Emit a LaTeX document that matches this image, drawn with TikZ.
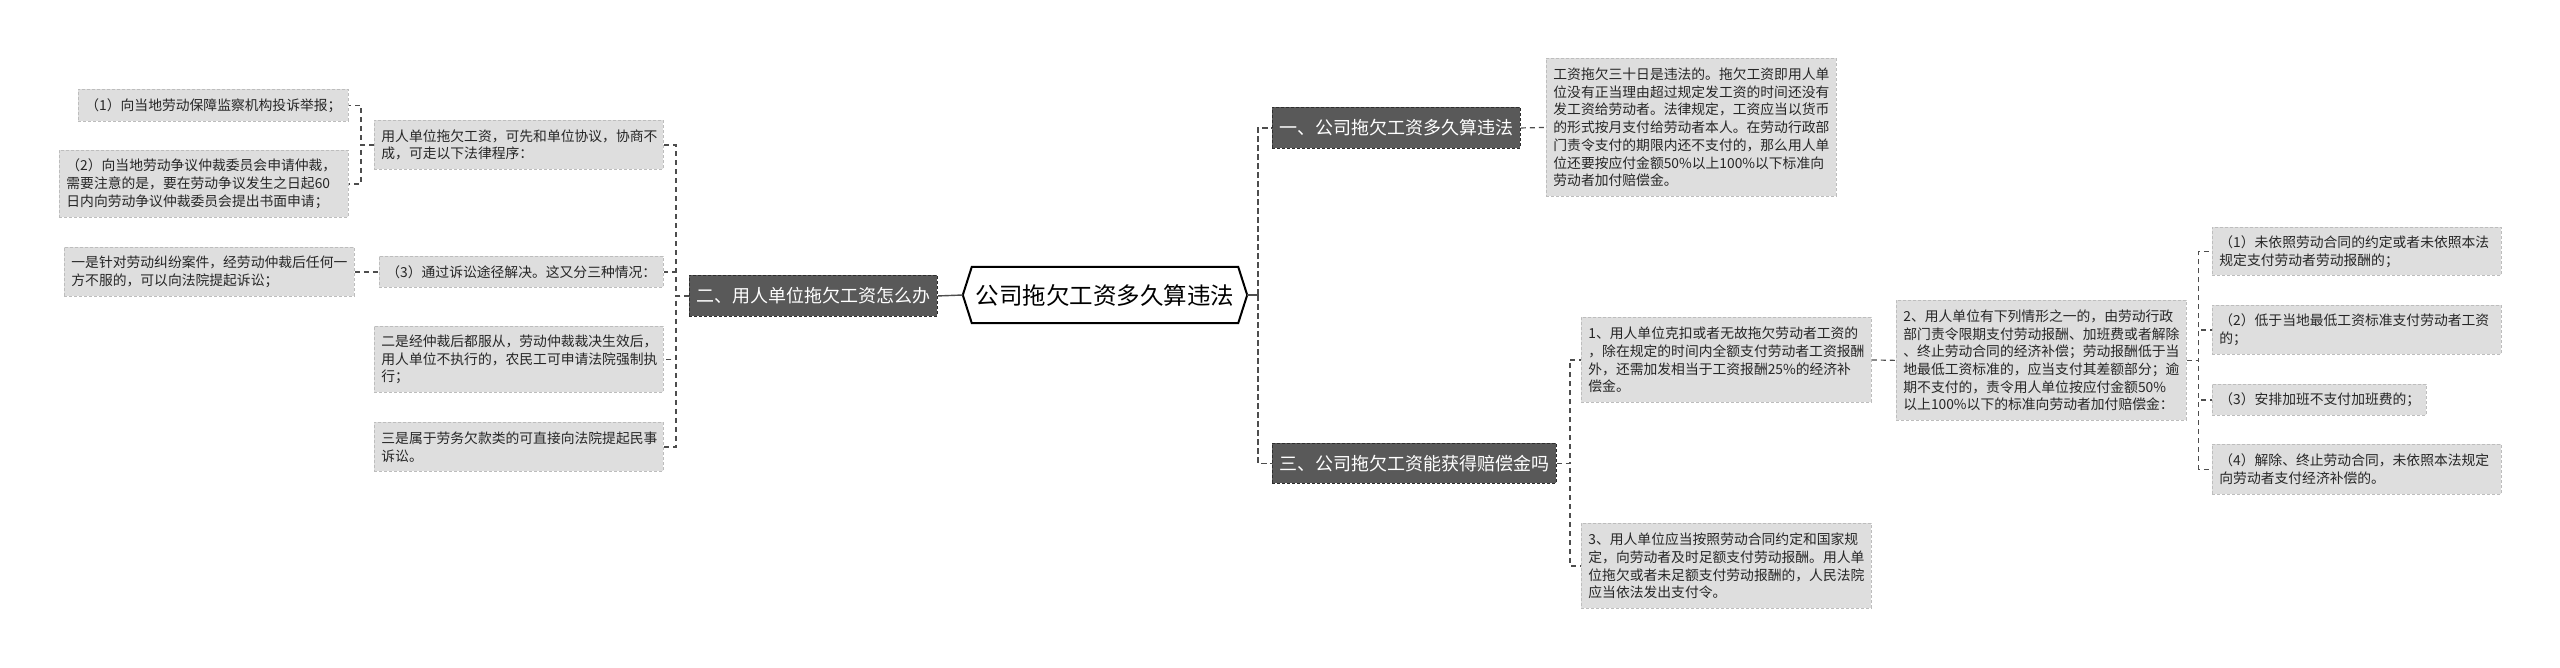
\documentclass[tikz,border=0pt]{standalone}
\usepackage{fontspec}
\setmainfont{Noto Sans CJK SC}
\usetikzlibrary{calc}
\definecolor{leafgray}{HTML}{DEDEDE}
\definecolor{leafline}{HTML}{BDBDBD}
\definecolor{darkfill}{HTML}{595959}
\definecolor{darkline}{HTML}{2E2E2E}
\definecolor{connc}{HTML}{4D4D4D}
\tikzset{
  leaf/.style={draw=leafline, dash pattern=on 3pt off 2pt, line width=0.8pt, fill=leafgray,
    font=\fontsize{13.8pt}{17.7pt}\selectfont, align=left, inner xsep=7pt, inner ysep=0pt,
    anchor=north west, text=black!85},
  darkbox/.style={draw=darkline, dash pattern=on 3pt off 2pt, line width=0.9pt, fill=darkfill,
    text=white, font=\fontsize{18pt}{22pt}\selectfont, inner xsep=7pt, inner ysep=0pt,
    anchor=north west, minimum height=41pt},
  conn/.style={draw=connc, line width=1.2pt, dash pattern=on 5pt off 4pt},
  trunk/.style={draw=connc, line width=1.6pt, dash pattern=on 6pt off 3pt},
  solidconn/.style={draw=connc, line width=1.4pt},
  hexline/.style={draw=black, line width=2pt, line join=miter}
}
\begin{document}
\begin{tikzpicture}[x=1pt,y=-1pt]
\fill[white] (0,0) rectangle (2560,667);
\useasboundingbox (0,0) rectangle (2560,667);

% left branch
\node[leaf, text width=256pt, minimum height=32pt] (a1) at (78,89) {（1）向当地劳动保障监察机构投诉举报；};
\node[leaf, text width=275pt, minimum height=67pt] (a2) at (59,150) {（2）向当地劳动争议仲裁委员会申请仲裁，\\需要注意的是，要在劳动争议发生之日起60\\日内向劳动争议仲裁委员会提出书面申请；};
\node[leaf, text width=276pt, minimum height=49pt] (a3) at (64,247) {一是针对劳动纠纷案件，经劳动仲裁后任何一\\方不服的，可以向法院提起诉讼；};
\node[leaf, text width=275pt, minimum height=49pt] (b1) at (374,120) {用人单位拖欠工资，可先和单位协议，协商不\\成，可走以下法律程序：};
\node[leaf, text width=270pt, minimum height=31pt] (b2) at (379,256) {（3）通过诉讼途径解决。这又分三种情况：};
\node[leaf, text width=275pt, minimum height=66pt] (b3) at (374,326) {二是经仲裁后都服从，劳动仲裁裁决生效后，\\用人单位不执行的，农民工可申请法院强制执\\行；};
\node[leaf, text width=275pt, minimum height=49pt] (b4) at (374,422) {三是属于劳务欠款类的可直接向法院提起民事\\诉讼。};
\node[darkbox, minimum width=248pt] (n2) at (689,275) {二、用人单位拖欠工资怎么办};

% center
\node[font=\fontsize{23.5pt}{28pt}\selectfont, minimum width=266pt, minimum height=56pt, inner sep=0pt] (c) at (1105,295) {公司拖欠工资多久算违法};
\draw[hexline] (c.north west) -- (c.north east) -- ([xshift=9pt]c.east) -- (c.south east) -- (c.south west) -- ([xshift=-9pt]c.west) -- cycle;

% right branch
\node[darkbox, minimum width=248pt] (n1) at (1272,107) {一、公司拖欠工资多久算违法};
\node[leaf, text width=276pt, minimum height=138pt] (t1) at (1546,58) {工资拖欠三十日是违法的。拖欠工资即用人单\\位没有正当理由超过规定发工资的时间还没有\\发工资给劳动者。法律规定，工资应当以货币\\的形式按月支付给劳动者本人。在劳动行政部\\门责令支付的期限内还不支付的，那么用人单\\位还要按应付金额50\%以上100\%以下标准向\\劳动者加付赔偿金。};
\node[darkbox, minimum width=284pt, minimum height=40pt] (n3) at (1272,443) {三、公司拖欠工资能获得赔偿金吗};
\node[leaf, text width=276pt, minimum height=85pt] (r1) at (1581,317) {1、用人单位克扣或者无故拖欠劳动者工资的\\，除在规定的时间内全额支付劳动者工资报酬\\外，还需加发相当于工资报酬25\%的经济补\\偿金。};
\node[leaf, text width=276pt, minimum height=85pt] (r3) at (1581,523) {3、用人单位应当按照劳动合同约定和国家规\\定，向劳动者及时足额支付劳动报酬。用人单\\位拖欠或者未足额支付劳动报酬的，人民法院\\应当依法发出支付令。};
\node[leaf, text width=276pt, minimum height=120pt] (r2) at (1896,300) {2、用人单位有下列情形之一的，由劳动行政\\部门责令限期支付劳动报酬、加班费或者解除\\、终止劳动合同的经济补偿；劳动报酬低于当\\地最低工资标准的，应当支付其差额部分；逾\\期不支付的，责令用人单位按应付金额50\%\\以上100\%以下的标准向劳动者加付赔偿金：};
\node[leaf, text width=275pt, minimum height=48pt] (s1) at (2212,227) {（1）未依照劳动合同的约定或者未依照本法\\规定支付劳动者劳动报酬的；};
\node[leaf, text width=275pt, minimum height=49pt] (s2) at (2212,305) {（2）低于当地最低工资标准支付劳动者工资\\的；};
\node[leaf, text width=200pt, minimum height=31pt] (s3) at (2212,384) {（3）安排加班不支付加班费的；};
\node[leaf, text width=275pt, minimum height=50pt] (s4) at (2212,444) {（4）解除、终止劳动合同，未依照本法规定\\向劳动者支付经济补偿的。};

% connectors left
\draw[conn] (b1.west) -- ++(-13,0) |- (a1.east);
\draw[conn] (b1.west) -- ++(-13,0) |- (a2.east);
\draw[conn] (a3.east) -- (b2.west);
\draw[conn] (n2.west) -- ++(-13,0) |- (b1.east);
\draw[conn] (n2.west) -- ++(-13,0) |- (b2.east);
\draw[conn] (n2.west) -- ++(-13,0) |- (b3.east);
\draw[conn] (n2.west) -- ++(-13,0) |- (b4.east);
\draw[solidconn] (n2.east) -- ([xshift=-9pt]c.west);

% connectors right
\draw[solidconn] ([xshift=9pt]c.east) -- ++(11,0) coordinate (cr);
\draw[trunk] (cr) |- (n1.west);
\draw[trunk] (cr) |- (n3.west);
\draw[conn] (n1.east) -- (t1.west);
\draw[conn] (n3.east) -- ++(13,0) |- (r1.west);
\draw[conn] (n3.east) -- ++(13,0) |- (r3.west);
\draw[conn] (r1.east) -- (r2.west);
\draw[conn] (r2.east) -- ++(12,0) |- (s1.west);
\draw[conn] (r2.east) -- ++(12,0) |- (s2.west);
\draw[conn] (r2.east) -- ++(12,0) |- (s3.west);
\draw[conn] (r2.east) -- ++(12,0) |- (s4.west);
\end{tikzpicture}
\end{document}
